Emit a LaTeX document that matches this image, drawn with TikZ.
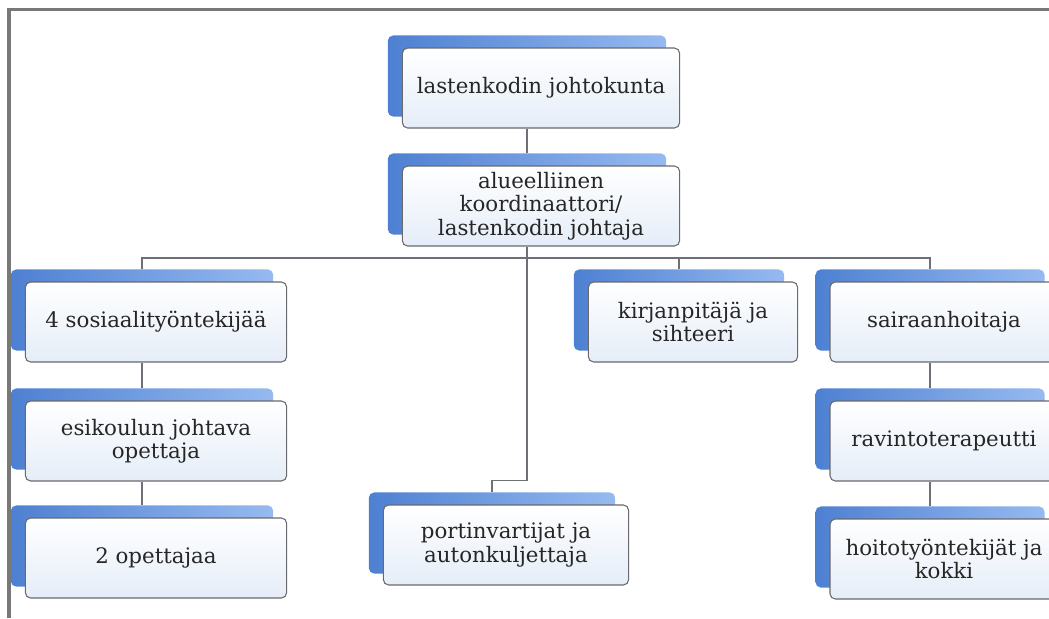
\documentclass[tikz,border=0pt]{standalone}
\usepackage{fontspec}
\setmainfont{DejaVu Serif}
\usetikzlibrary{backgrounds}
\definecolor{tabdark}{RGB}{78,128,210}
\definecolor{tablight}{RGB}{150,186,240}
\definecolor{boxbot}{RGB}{229,237,248}
\definecolor{boxline}{RGB}{105,105,110}
\definecolor{linkgray}{RGB}{110,112,120}
\definecolor{framegray}{RGB}{120,120,120}
\definecolor{textgray}{RGB}{38,38,38}
\begin{document}
\begin{tikzpicture}[x=0.75pt,y=-0.75pt,
  orgbox/.style={rectangle, rounded corners=4pt, draw=boxline, line width=0.8pt,
    top color=white, bottom color=boxbot, align=center, minimum height=60pt,
    inner sep=2pt, text=textgray, font=\fontsize{16}{17.5}\selectfont},
  tab/.style={left color=tabdark, right color=tablight, rounded corners=4pt},
  link/.style={draw=linkgray, line width=1.1pt}]
\useasboundingbox (0,0) rectangle (1049,618);
\draw[framegray, line width=2.3pt] (9,618) -- (9,9.5) -- (1049,9.5);

\node[orgbox, minimum width=208pt] (board) at (541,88) {lastenkodin johtokunta};
\node[orgbox, minimum width=208pt] (coord) at (541,206) {alueelliinen\\koordinaattori/\\lastenkodin johtaja};
\node[orgbox, minimum width=196pt] (social) at (156,322) {4 sosiaalityöntekijää};
\node[orgbox, minimum width=196pt] (preschool) at (156,441) {esikoulun johtava\\opettaja};
\node[orgbox, minimum width=196pt] (teachers) at (156,558) {2 opettajaa};
\node[orgbox, minimum width=157pt] (clerk) at (693,322) {kirjanpitäjä ja\\sihteeri};
\node[orgbox, minimum width=184pt] (gate) at (506,545) {portinvartijat ja\\autonkuljettaja};
\node[orgbox, minimum width=171pt] (nurse) at (944,322) {sairaanhoitaja};
\node[orgbox, minimum width=171pt] (diet) at (944,441) {ravintoterapeutti};
\node[orgbox, minimum width=171pt] (staff) at (944,559) {hoitotyöntekijät ja\\kokki};

\foreach \n in {board,coord,social,preschool,teachers,clerk,gate,nurse,diet,staff} {
  \coordinate (\n-t) at ([shift={(-14,-12)}]\n.north);
  \coordinate (\n-b) at ([shift={(-14,0)}]\n.south);
}
\coordinate (bus) at (coord-b |- 0,258);

\begin{scope}[on background layer]
\draw[link] (board-b) -- (coord-t);
\draw[link] (social-t) |- (bus) -| (nurse-t);
\draw[link] (bus) -| (clerk-t);
\draw[link] (coord-b) |- ([shift={(0,-12)}]gate-t) -- (gate-t);
\draw[link] (social-b) -- (preschool-t);
\draw[link] (preschool-b) -- (teachers-t);
\draw[link] (nurse-b) -- (diet-t);
\draw[link] (diet-b) -- (staff-t);
\foreach \n in {board,coord,social,preschool,teachers,clerk,gate,nurse,diet,staff}
  \path[tab] ([shift={(-14,-12)}]\n.north west) rectangle ([shift={(-14,-12)}]\n.south east);
\end{scope}
\end{tikzpicture}
\end{document}
